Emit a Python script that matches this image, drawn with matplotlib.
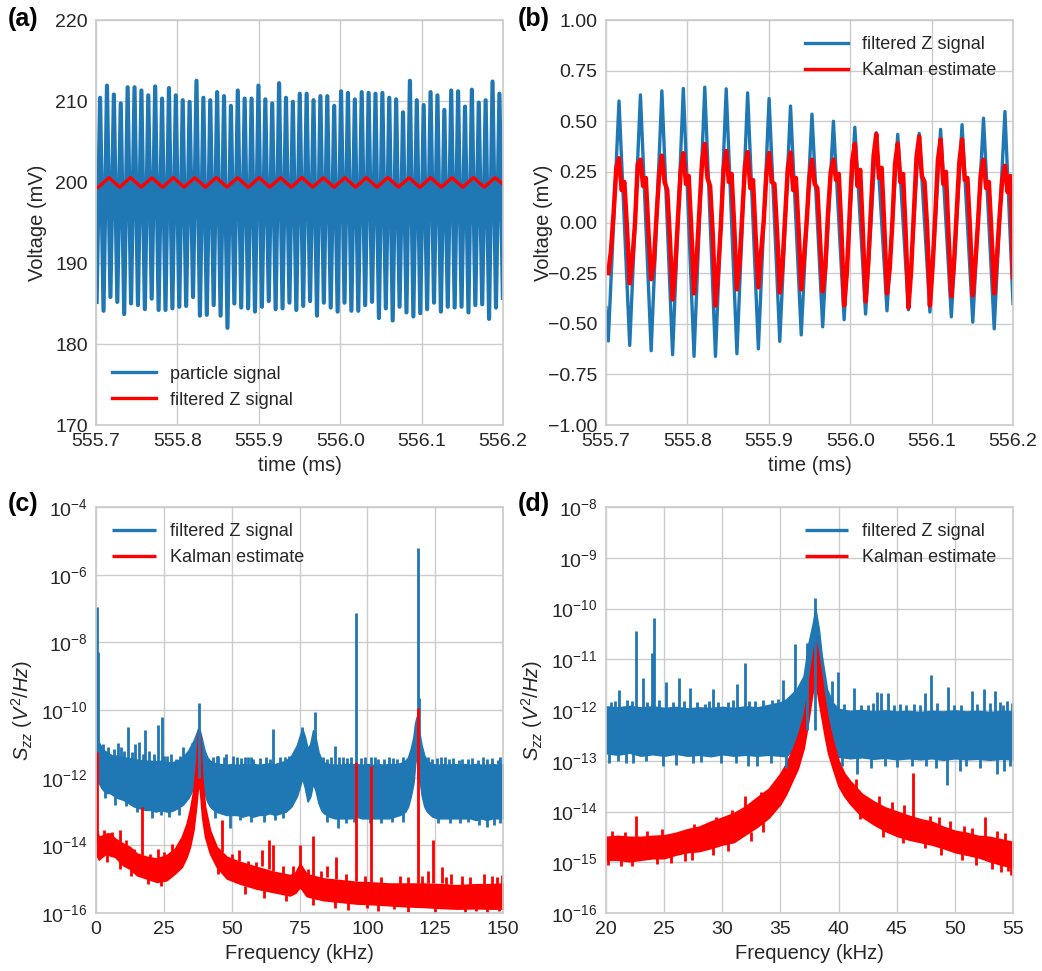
import numpy as np
import matplotlib
matplotlib.use('Agg')
import matplotlib.pyplot as plt
from matplotlib.ticker import FormatStrFormatter, NullLocator, FixedLocator

# ---------------- DATA ----------------
# (a) particle signal: per-cycle extrema (mV), 118 kHz oscillation
a_t_start = 555.7008          # first trough time (ms)
a_period = 0.008458           # ms
a_peaks = [210.4, 211.9, 210.8, 209.7, 211.7, 211.7, 211.3, 210.7, 211.8, 210.3,
           211.6, 210.7, 210.1, 209.9, 212.5, 210.4, 210.1, 211.1, 210.6, 209.4,
           211.3, 210.3, 210.3, 211.9, 210.2, 209.7, 212.2, 210.4, 209.9, 210.9,
           210.9, 210.1, 210.6, 210.6, 209.4, 211.2, 211.0, 210.2, 211.1, 211.0,
           210.9, 211.0, 210.4, 210.2, 208.6, 212.5, 210.1, 209.5, 211.1, 210.7,
           208.9, 211.3, 211.2, 209.3, 211.4, 209.8, 210.1, 212.4, 210.9]
a_troughs = [185.2, 184.1, 185.8, 185.2, 183.7, 185.0, 184.8, 184.3, 185.6, 184.2,
             184.2, 184.4, 184.6, 184.7, 185.8, 183.5, 183.6, 184.8, 183.5, 182.0,
             185.0, 184.5, 184.4, 184.0, 184.6, 185.3, 184.3, 184.4, 185.1, 184.2,
             184.7, 185.3, 183.5, 185.1, 184.5, 184.0, 185.1, 184.1, 184.1, 184.8,
             185.2, 183.2, 184.4, 182.9, 184.6, 183.9, 183.4, 183.8, 184.3, 185.1,
             184.0, 184.6, 184.5, 184.6, 183.9, 184.8, 184.9, 183.1, 184.5, 185.7]

# filtered Z signal, ~38 kHz
z_t_start = 555.7028          # first trough time (ms)
z_period = 0.02634            # ms
a_red_peaks = [200.53, 200.55, 200.52, 200.54, 200.53, 200.55, 200.52, 200.54, 200.53, 200.55,
               200.52, 200.54, 200.53, 200.55, 200.52, 200.54, 200.53, 200.55, 200.53]
a_red_troughs = [199.36, 199.35, 199.37, 199.34, 199.36, 199.35, 199.37, 199.34, 199.36, 199.35,
                 199.37, 199.34, 199.36, 199.35, 199.37, 199.34, 199.36, 199.35, 199.36]
a_red_end = 199.75

# (b) filtered Z signal extrema (mV)
b_start = -0.42
b_end = -0.40
b_peaks = [0.600, 0.630, 0.650, 0.662, 0.668, 0.660, 0.640, 0.612, 0.575, 0.535,
           0.500, 0.470, 0.443, 0.435, 0.440, 0.460, 0.483, 0.515, 0.548]
b_troughs = [-0.585, -0.607, -0.633, -0.653, -0.661, -0.661, -0.648, -0.624, -0.587, -0.555,
             -0.515, -0.480, -0.452, -0.436, -0.431, -0.442, -0.466, -0.492, -0.525]
# Kalman estimate: 8 samples per Z cycle (starting at each trough)
b_kalman = [
    [-0.25, -0.14, 0.05, 0.27, 0.317, 0.16, 0.20, -0.03],
    [-0.30, -0.18, 0.00, 0.29, 0.31, 0.18, 0.22, -0.05],
    [-0.28, -0.20, 0.03, 0.24, 0.33, 0.20, 0.16, -0.08],
    [-0.38, -0.22, 0.02, 0.25, 0.342, 0.19, 0.23, -0.04],
    [-0.35, -0.17, 0.06, 0.30, 0.388, 0.22, 0.18, -0.06],
    [-0.41, -0.24, -0.02, 0.26, 0.353, 0.20, 0.24, -0.02],
    [-0.33, -0.20, 0.04, 0.28, 0.347, 0.17, 0.21, -0.07],
    [-0.32, -0.15, 0.01, 0.24, 0.343, 0.20, 0.19, -0.05],
    [-0.345, -0.21, 0.03, 0.27, 0.345, 0.16, 0.22, -0.03],
    [-0.33, -0.18, 0.00, 0.22, 0.31, 0.19, 0.17, -0.08],
    [-0.34, -0.22, 0.05, 0.25, 0.31, 0.21, 0.24, -0.04],
    [-0.41, -0.25, 0.02, 0.30, 0.388, 0.18, 0.26, -0.05],
    [-0.39, -0.20, 0.06, 0.33, 0.437, 0.22, 0.27, -0.02],
    [-0.35, -0.23, 0.00, 0.29, 0.39, 0.20, 0.24, -0.06],
    [-0.42, -0.24, 0.04, 0.32, 0.425, 0.23, 0.20, -0.03],
    [-0.41, -0.22, 0.03, 0.31, 0.41, 0.19, 0.25, -0.07],
    [-0.365, -0.20, 0.05, 0.30, 0.41, 0.21, 0.22, -0.04],
    [-0.36, -0.19, 0.01, 0.24, 0.31, 0.17, 0.20, -0.06],
    [-0.35, -0.17, 0.03, 0.21, 0.28, 0.15, 0.23, -0.27],
]

# (c) PSD, 0-150 kHz, values are log10(S_zz)
c_blue_f = [0.3, 1, 2, 3, 4, 5, 6, 8, 10, 12, 14, 16, 18, 20, 22, 24, 26, 28, 30, 32,
            33, 34, 35, 36, 37, 37.6, 38.2, 39, 40, 41, 42, 44, 46, 48, 50, 52, 54, 56, 58, 60,
            62, 64, 66, 68, 70, 72, 73, 74, 75, 76, 77, 78, 79, 80, 81, 82, 83, 84, 86, 88,
            90, 92, 94, 96, 98, 100, 102, 104, 106, 108, 110, 112, 114, 115, 116, 117, 117.6, 118.2, 119, 120,
            121, 122, 124, 126, 128, 130, 132, 134, 136, 138, 140, 142, 144, 146, 148, 150]
c_blue_hi = [-10.9, -10.95, -11.1, -11.2, -11.25, -11.3, -11.35, -11.35, -11.4, -11.42,
             -11.45, -11.48, -11.5, -11.5, -11.52, -11.5, -11.55, -11.55, -11.5, -11.4,
             -11.3, -11.2, -11.05, -10.9, -10.7, -10.55, -10.6, -10.85, -11.2, -11.4,
             -11.5, -11.58, -11.6, -11.62, -11.6, -11.63, -11.6, -11.62, -11.6, -11.62,
             -11.6, -11.58, -11.6, -11.55, -11.5, -11.35, -11.2, -11.05, -10.8, -10.55,
             -10.8, -11.15, -11.0, -10.6, -10.85, -11.25, -11.45, -11.55, -11.6, -11.62,
             -11.62, -11.6, -11.6, -11.6, -11.62, -11.6, -11.62, -11.6, -11.62, -11.6,
             -11.6, -11.58, -11.5, -11.4, -11.15, -10.8, -10.4, -10.2, -10.6, -11.05,
             -11.35, -11.5, -11.6, -11.62, -11.6, -11.62, -11.6, -11.62, -11.6, -11.62,
             -11.6, -11.62, -11.62, -11.6, -11.62, -11.6]
c_blue_lo = [-12.1, -12.15, -12.3, -12.4, -12.45, -12.45, -12.5, -12.6, -12.65, -12.75,
             -12.85, -12.9, -12.95, -12.95, -13.0, -12.95, -13.0, -12.98, -12.9, -12.8,
             -12.7, -12.6, -12.45, -12.25, -12.0, -11.7, -11.8, -12.1, -12.45, -12.7,
             -12.85, -13.0, -13.05, -13.1, -13.1, -13.1, -13.15, -13.1, -13.15, -13.1,
             -13.1, -13.05, -13.1, -13.05, -13.0, -12.85, -12.7, -12.55, -12.3, -12.0,
             -12.3, -12.7, -12.55, -12.15, -12.4, -12.75, -12.95, -13.05, -13.15, -13.2,
             -13.2, -13.2, -13.2, -13.15, -13.2, -13.2, -13.2, -13.2, -13.2, -13.2,
             -13.15, -13.1, -13.0, -12.85, -12.55, -12.15, -11.6, -11.3, -11.9, -12.5,
             -12.85, -13.0, -13.15, -13.2, -13.2, -13.2, -13.2, -13.2, -13.2, -13.2,
             -13.25, -13.2, -13.25, -13.2, -13.2, -13.2]
# spikes: (frequency kHz, from log10, to log10)
c_blue_spikes = [(0.25, -12.0, -6.95), (0.7, -12.0, -8.3), (8.2, -12.0, -10.99), (9.2, -12.0, -11.1),
                 (11.7, -12.0, -10.51), (14.5, -12.0, -11.0), (16.0, -12.0, -10.95), (18.2, -12.0, -10.6),
                 (19.7, -12.0, -11.2), (22.9, -12.0, -10.44), (24.3, -12.0, -10.2), (26.3, -12.0, -11.35),
                 (29.5, -12.0, -11.45), (32.2, -12.0, -11.09), (35.3, -12.0, -10.99), (38.0, -12.0, -9.8),
                 (40.2, -12.0, -11.28), (45.0, -12.0, -11.35), (48.0, -12.0, -11.3), (52.0, -12.0, -11.4),
                 (56.1, -12.0, -11.38), (58.0, -12.0, -11.45), (65.1, -12.0, -10.56), (67.8, -12.0, -11.38),
                 (72.0, -12.0, -11.48), (75.8, -12.0, -10.5), (80.6, -12.0, -10.07), (85.0, -12.0, -11.45),
                 (88.2, -12.0, -11.07), (91.0, -12.0, -11.4), (96.0, -12.0, -7.13), (99.0, -12.0, -11.4),
                 (104.0, -12.0, -11.45), (108.0, -12.0, -11.4), (111.0, -12.0, -11.45), (118.6, -12.0, -5.2),
                 (118.9, -12.0, -9.65), (124.0, -12.0, -11.45), (127.0, -12.0, -11.4), (130.0, -12.0, -11.45),
                 (133.8, -12.0, -11.48), (137.0, -12.0, -11.45), (140.9, -12.0, -11.47), (144.0, -12.0, -11.45),
                 (148.3, -12.0, -11.48),
                 (2.5, -12.0, -11.0), (4.5, -12.0, -11.1), (6.5, -12.0, -11.15), (10.5, -12.0, -11.2),
                 (13.3, -12.0, -11.25), (17.2, -12.0, -11.3), (21.2, -12.0, -11.3), (25.2, -12.0, -11.35),
                 (27.5, -12.0, -11.3), (31.0, -12.0, -11.35), (43.0, -12.0, -11.4), (44.5, -12.0, -11.35),
                 (47.0, -12.0, -11.4), (50.5, -12.0, -11.35), (53.5, -12.0, -11.42), (55.0, -12.0, -11.4),
                 (57.2, -12.0, -11.38), (60.5, -12.0, -11.42), (62.5, -12.0, -11.4), (64.0, -12.0, -11.45),
                 (69.5, -12.0, -11.4), (71.0, -12.0, -11.35), (83.5, -12.0, -11.4), (86.5, -12.0, -11.38),
                 (89.5, -12.0, -11.4), (92.5, -12.0, -11.42), (94.0, -12.0, -11.4), (97.5, -12.0, -11.42),
                 (101.5, -12.0, -11.38), (102.8, -12.0, -11.4), (106.0, -12.0, -11.45), (109.5, -12.0, -11.42),
                 (113.0, -12.0, -11.4), (122.5, -12.0, -11.4), (125.5, -12.0, -11.42), (128.5, -12.0, -11.38),
                 (131.5, -12.0, -11.42), (135.0, -12.0, -11.45), (138.5, -12.0, -11.42), (142.5, -12.0, -11.4),
                 (146.0, -12.0, -11.42), (149.0, -12.0, -11.4),
                 (3.5, -12.3, -12.6), (7.0, -12.5, -12.8), (11.0, -12.5, -12.85), (15.0, -12.6, -13.0),
                 (20.5, -12.6, -13.2), (24.0, -12.6, -13.1), (27.0, -12.6, -13.15), (30.5, -12.6, -13.1),
                 (44.0, -12.6, -13.2), (49.4, -12.6, -13.5), (53.0, -12.6, -13.25), (57.0, -12.6, -13.3),
                 (62.0, -12.6, -13.3), (66.0, -12.6, -13.25), (69.0, -12.6, -13.2), (85.0, -12.6, -13.3),
                 (89.3, -12.6, -13.5), (92.0, -12.6, -13.35), (95.0, -12.6, -13.3), (101.0, -12.6, -13.35),
                 (105.0, -12.6, -13.35), (109.0, -12.6, -13.3), (113.0, -12.6, -13.3), (126.0, -12.6, -13.35),
                 (130.5, -12.6, -13.35), (134.0, -12.6, -13.35), (137.0, -12.6, -13.3), (141.0, -12.6, -13.4),
                 (144.0, -12.6, -13.45), (146.5, -12.6, -13.4), (149.0, -12.6, -13.35)]

c_red_f = [0.3, 1, 2, 3.9, 5.2, 7, 10, 12.5, 15, 18.7, 22.4, 26, 29.1, 31.6, 33.4, 34.6, 35.9,
           36.9, 37.7, 38.3, 39.1, 40.2, 42, 44.5, 48.2, 53, 59.2, 65.4, 71.5, 73.5, 75.2, 77.6,
           80, 83.8, 90, 96, 102, 108, 114, 120.6, 127, 133, 140, 145, 150]
c_red_hi = [-13.5, -13.75, -13.72, -13.65, -13.65, -13.8, -13.95, -14.05, -14.24, -14.34, -14.39,
            -14.29, -14.1, -13.75, -13.36, -12.96, -12.37, -11.58, -10.59, -10.7, -11.97, -12.86,
            -13.55, -14.05, -14.34, -14.49, -14.64, -14.78, -14.88, -14.8, -14.54, -14.85,
            -14.9, -14.98, -15.03, -15.08, -15.1, -15.13, -15.13, -15.13, -15.15, -15.18, -15.15,
            -15.15, -15.13]
c_red_lo = [-14.3, -14.42, -14.35, -14.24, -14.3, -14.34, -14.59, -14.69, -14.88, -14.98, -15.08,
            -15.03, -14.83, -14.64, -14.34, -14.05, -13.55, -12.86, -12.17, -12.37, -13.16, -13.75,
            -14.24, -14.64, -14.98, -15.13, -15.28, -15.38, -15.48, -15.4, -15.23, -15.5,
            -15.55, -15.62, -15.67, -15.72, -15.74, -15.77, -15.8, -15.82, -15.85, -15.87, -15.86,
            -15.87, -15.87]
c_red_spikes = [(0.3, -14.0, -11.23), (8.8, -13.9, -13.55), (17.1, -14.3, -12.86), (22.9, -14.4, -14.1),
                (46.4, -14.2, -13.26), (52.7, -14.45, -14.14), (61.2, -14.6, -14.14), (63.6, -14.7, -13.85),
                (65.4, -14.75, -14.0), (72.7, -14.85, -14.6), (75.2, -14.6, -14.0), (80.1, -14.9, -13.73),
                (85.3, -14.95, -14.6), (88.3, -15.0, -14.34), (95.9, -15.05, -11.53), (101.4, -15.1, -11.65),
                (118.6, -15.1, -9.95), (122.5, -15.1, -14.75), (124.1, -15.1, -13.85), (127.4, -15.1, -14.64),
                (131.0, -15.15, -14.85), (147.9, -15.15, -14.93),
                (3.0, -14.0, -13.55), (6.0, -14.0, -13.6), (11.0, -14.2, -13.85), (14.0, -14.4, -14.1),
                (20.0, -14.5, -14.25), (25.0, -14.5, -14.2), (28.0, -14.3, -13.95), (43.0, -14.2, -13.85),
                (50.0, -14.6, -14.25), (56.0, -14.7, -14.45), (59.0, -14.8, -14.5), (69.0, -14.9, -14.6),
                (78.0, -14.95, -14.7), (83.0, -15.0, -14.75), (92.0, -15.1, -14.85), (99.0, -15.1, -14.9),
                (105.0, -15.15, -14.95), (112.0, -15.15, -14.9), (115.0, -15.15, -14.95), (120.0, -15.15, -14.9),
                (129.0, -15.2, -14.95), (135.0, -15.2, -14.9), (138.0, -15.2, -14.95), (143.0, -15.2, -14.85),
                (146.0, -15.2, -14.9), (149.5, -15.2, -14.88),
                (4.0, -14.2, -14.5), (9.0, -14.4, -14.7), (13.0, -14.6, -14.9), (19.0, -14.9, -15.15),
                (24.0, -15.0, -15.2), (45.0, -14.6, -14.85), (55.0, -15.2, -15.45), (62.0, -15.3, -15.55),
                (70.0, -15.4, -15.65), (80.0, -15.5, -15.75), (88.0, -15.6, -15.85), (93.0, -15.6, -15.9),
                (100.0, -15.6, -15.85), (104.0, -15.7, -15.95), (110.0, -15.7, -15.88), (115.0, -15.75, -15.98),
                (125.0, -15.8, -16.0), (136.0, -15.8, -16.05), (140.0, -15.8, -15.95), (144.0, -15.8, -16.0),
                (148.5, -15.8, -15.93)]

# (d) PSD zoom, 20-55 kHz
d_blue_f = [20, 21, 22, 23, 24, 25, 26, 27, 28, 29, 30, 31, 32, 33, 34, 35, 35.5, 36.4, 37.0, 37.4,
            37.8, 38.0, 38.3, 38.55, 39.0, 39.5, 40, 41, 42, 43, 44, 45, 46, 47, 48, 49, 50, 51,
            52, 53, 54, 55]
d_blue_hi = [-11.93, -11.95, -11.92, -11.95, -11.93, -11.96, -11.94, -11.97, -11.95, -11.96, -11.94,
             -11.96, -11.93, -11.95, -11.9, -11.85, -11.79, -11.59, -11.33, -10.7, -10.28, -10.0,
             -10.41, -10.93, -11.59, -11.86, -11.98, -12.02, -12.0, -12.03, -12.01, -12.03, -12.02,
             -12.04, -12.02, -12.03, -12.01, -12.03, -12.02, -12.04, -12.02, -12.03]
d_blue_lo = [-12.85, -12.88, -12.84, -12.9, -12.87, -12.9, -12.86, -12.9, -12.88, -12.91, -12.87,
             -12.9, -12.88, -12.9, -12.88, -12.9, -12.91, -12.7, -12.38, -11.79, -11.26, -11.2,
             -11.6, -12.1, -12.5, -12.85, -12.92, -12.95, -12.93, -12.96, -12.94, -12.97, -12.95,
             -12.97, -12.95, -12.98, -12.95, -12.97, -12.96, -12.98, -12.96, -12.97]
d_blue_spikes = [(21.15, -12.4, -11.61), (22.58, -12.4, -10.44), (23.18, -12.4, -11.36), (23.98, -12.4, -10.87),
                 (24.16, -12.4, -10.19), (25.13, -12.4, -11.44), (26.25, -12.4, -11.36), (27.25, -12.4, -11.56),
                 (29.17, -12.4, -11.58), (31.29, -12.4, -11.49), (31.95, -12.4, -11.08), (35.25, -12.4, -11.41),
                 (36.25, -12.4, -10.70), (37.31, -12.4, -10.67), (37.94, -12.4, -9.80), (39.43, -12.4, -11.42),
                 (39.97, -12.4, -11.26), (41.35, -12.4, -11.57), (43.33, -12.4, -11.64), (43.65, -12.4, -11.67),
                 (44.28, -12.4, -11.66), (47.43, -12.4, -11.67), (47.97, -12.4, -11.31), (49.43, -12.4, -11.55),
                 (51.44, -12.4, -11.62), (52.53, -12.4, -11.58), (53.45, -12.4, -11.62), (54.45, -12.4, -11.82),
                 (20.4, -12.4, -11.85), (21.8, -12.4, -11.8), (22.2, -12.4, -11.82), (25.8, -12.4, -11.85),
                 (28.5, -12.4, -11.88), (30.5, -12.4, -11.85), (32.8, -12.4, -11.82), (34.3, -12.4, -11.8),
                 (42.5, -12.4, -11.9), (45.8, -12.4, -11.9), (46.5, -12.4, -11.88), (50.5, -12.4, -11.9),
                 (53.9, -12.4, -11.85),
                 (20.8, -12.4, -11.82), (23.5, -12.4, -11.85), (24.6, -12.4, -11.8), (26.7, -12.4, -11.83),
                 (27.8, -12.4, -11.85), (28.9, -12.4, -11.82), (29.6, -12.4, -11.84), (30.9, -12.4, -11.8),
                 (32.3, -12.4, -11.83), (33.5, -12.4, -11.8), (34.8, -12.4, -11.78), (40.5, -12.4, -11.88),
                 (41.9, -12.4, -11.9), (43.0, -12.4, -11.87), (44.8, -12.4, -11.9), (45.3, -12.4, -11.88),
                 (47.0, -12.4, -11.9), (48.5, -12.4, -11.87), (49.9, -12.4, -11.9), (51.9, -12.4, -11.88),
                 (53.0, -12.4, -11.87), (54.1, -12.4, -11.9), (54.9, -12.4, -11.86),
                 (20.3, -12.5, -13.05), (22.3, -12.5, -13.05), (24.9, -12.5, -13.1), (27.5, -12.5, -13.05),
                 (29.9, -12.5, -13.05), (33.0, -12.5, -13.1), (35.5, -12.5, -13.15), (41.6, -12.5, -13.27),
                 (44.0, -12.5, -13.1), (46.3, -12.5, -13.1), (49.3, -12.5, -13.47), (51.0, -12.5, -13.1),
                 (53.6, -12.5, -13.27), (54.7, -12.5, -13.1),
                 (21.0, -12.5, -13.0), (21.7, -12.5, -13.05), (23.4, -12.5, -13.0), (26.0, -12.5, -13.08),
                 (28.2, -12.5, -13.02), (31.2, -12.5, -13.05), (32.2, -12.5, -13.1), (34.2, -12.5, -13.05),
                 (40.3, -12.5, -13.1), (42.8, -12.5, -13.15), (45.0, -12.5, -13.12), (47.5, -12.5, -13.1),
                 (48.4, -12.5, -13.15), (50.4, -12.5, -13.2), (52.2, -12.5, -13.15), (54.2, -12.5, -13.2)]

d_red_f = [20, 21, 22, 23, 24, 25, 26, 27, 28, 29, 30, 31, 32, 33, 34, 35, 35.5, 36, 36.5, 37,
           37.3, 37.6, 37.8, 38.0, 38.2, 38.5, 38.8, 39.1, 39.5, 40, 40.5, 41, 42, 43, 44, 45, 46,
           47, 48, 49, 50, 51, 52, 53, 54, 55]
d_red_hi = [-14.5, -14.48, -14.5, -14.5, -14.48, -14.47, -14.42, -14.35, -14.3, -14.2, -14.12, -14.03,
            -13.9, -13.72, -13.55, -13.25, -13.05, -12.8, -12.5, -12.1, -11.7, -11.2, -10.9, -10.59,
            -10.85, -11.3, -11.8, -12.2, -12.6, -13.0, -13.25, -13.4, -13.65, -13.8, -13.92, -14.0,
            -14.08, -14.15, -14.2, -14.3, -14.38, -14.42, -14.48, -14.5, -14.55, -14.6]
d_red_lo = [-14.95, -14.95, -14.98, -14.95, -14.92, -14.92, -14.85, -14.8, -14.78, -14.72, -14.65, -14.6,
            -14.45, -14.3, -14.12, -13.85, -13.65, -13.4, -13.15, -12.75, -12.35, -11.9, -11.6, -11.5,
            -11.7, -12.1, -12.5, -12.85, -13.15, -13.5, -13.7, -13.85, -14.1, -14.25, -14.38, -14.48,
            -14.55, -14.6, -14.65, -14.72, -14.8, -14.85, -14.9, -14.98, -15.05, -15.1]
d_red_spikes = [(22.6, -14.5, -14.09), (31.95, -14.0, -13.7), (46.4, -14.1, -13.24), (47.9, -14.2, -14.09),
                (52.6, -14.5, -14.11), (30.5, -14.6, -14.78), (53.2, -15.0, -15.14), (21.3, -14.9, -15.08),
                (26.8, -14.8, -14.98), (54.6, -15.0, -15.17),
                (20.5, -14.6, -14.38), (21.6, -14.6, -14.4), (23.5, -14.6, -14.38), (24.8, -14.6, -14.35),
                (27.6, -14.5, -14.25), (29.5, -14.4, -14.1), (30.8, -14.3, -13.98), (33.3, -14.0, -13.62),
                (34.5, -13.8, -13.4), (41.5, -13.6, -13.35), (43.5, -13.95, -13.7), (44.6, -14.05, -13.82),
                (45.6, -14.1, -13.88), (48.6, -14.35, -14.1), (49.6, -14.4, -14.18), (50.8, -14.5, -14.28),
                (51.5, -14.55, -14.32), (53.6, -14.6, -14.38), (54.3, -14.65, -14.42),
                (20.2, -14.85, -15.05), (22.2, -14.9, -15.08), (24.4, -14.85, -15.04), (25.6, -14.85, -15.02),
                (27.4, -14.75, -14.95), (29.2, -14.65, -14.85), (32.5, -14.4, -14.58), (33.5, -14.2, -14.4),
                (41.8, -13.95, -14.15), (43.8, -14.3, -14.5), (45.5, -14.45, -14.62), (47.4, -14.55, -14.72),
                (48.8, -14.65, -14.85), (50.6, -14.75, -14.95), (51.8, -14.85, -15.05), (54.0, -14.95, -15.2),
                (54.8, -15.0, -15.25)]

BLUE = '#1f77b4'
RED = '#ff0000'

# ---------------- STYLE ----------------
plt.rcParams.update({
    'font.family': ['Liberation Sans', 'DejaVu Sans'],
    'mathtext.fontset': 'custom',
    'mathtext.rm': 'Liberation Sans',
    'mathtext.it': 'Liberation Sans:italic',
    'mathtext.bf': 'Liberation Sans:bold',
    'axes.edgecolor': '#cccccc',
    'axes.linewidth': 1.25,
    'grid.color': '#cccccc',
    'grid.linewidth': 1.0,
    'xtick.major.size': 0, 'ytick.major.size': 0,
    'xtick.minor.size': 0, 'ytick.minor.size': 0,
    'xtick.major.pad': 6, 'ytick.major.pad': 6,
    'xtick.labelsize': 14, 'ytick.labelsize': 14,
    'axes.labelsize': 14.5,
    'legend.fontsize': 13,
    'text.color': '#262626', 'axes.labelcolor': '#262626',
    'xtick.color': '#262626', 'ytick.color': '#262626',
})

fig = plt.figure(figsize=(10.42, 9.71), dpi=100)
W, H = 1042.0, 971.0
ax_a = fig.add_axes([96 / W, 1 - 425 / H, 407 / W, 405 / H])
ax_b = fig.add_axes([606 / W, 1 - 425 / H, 407 / W, 405 / H])
ax_c = fig.add_axes([96 / W, 1 - 913 / H, 407 / W, 406 / H])
ax_d = fig.add_axes([606 / W, 1 - 913 / H, 407 / W, 406 / H])

for ax in (ax_a, ax_b, ax_c, ax_d):
    ax.grid(True, which='major')
    ax.set_axisbelow(True)
    for s in ax.spines.values():
        s.set_color('#cccccc')

# ---------------- (a) ----------------
ta, va = [], []
for k in range(len(a_peaks)):
    ta += [a_t_start + k * a_period, a_t_start + (k + 0.5) * a_period]
    va += [a_troughs[k], a_peaks[k]]
ta.append(a_t_start + len(a_peaks) * a_period)
va.append(a_troughs[len(a_peaks)])
ax_a.plot(ta, va, color=BLUE, lw=3.0, label='particle signal')

tr, vr = [], []
for k in range(len(a_red_peaks)):
    tr += [z_t_start + k * z_period, z_t_start + (k + 0.5) * z_period]
    vr += [a_red_troughs[k], a_red_peaks[k]]
tr.append(556.2)
vr.append(a_red_end)
ax_a.plot(tr, vr, color=RED, lw=2.4, label='filtered Z signal')
ax_a.set_xlim(555.7, 556.2)
ax_a.set_ylim(170, 220)
ax_a.set_yticks([170, 180, 190, 200, 210, 220])
ax_a.set_xticks([555.7, 555.8, 555.9, 556.0, 556.1, 556.2])
ax_a.xaxis.set_major_formatter(FormatStrFormatter('%.1f'))
ax_a.set_xlabel('time (ms)')
ax_a.set_ylabel('Voltage (mV)')
ax_a.yaxis.set_label_coords(-0.12, 0.5)
leg = ax_a.legend(loc='lower left', frameon=False, handlelength=2.4, handletextpad=0.8)
for h in leg.get_lines():
    h.set_linewidth(2.4)

# ---------------- (b) ----------------
tb, vb = [555.7], [b_start]
for k in range(len(b_peaks)):
    tb += [z_t_start + k * z_period, z_t_start + (k + 0.5) * z_period]
    vb += [b_troughs[k], b_peaks[k]]
tb.append(556.2)
vb.append(b_end)
ax_b.plot(tb, vb, color=BLUE, lw=2.4, label='filtered Z signal')

tk, vk = [], []
for k, cyc in enumerate(b_kalman):
    for j, v in enumerate(cyc):
        tk.append(z_t_start + (k + j / len(cyc)) * z_period)
        vk.append(v)
ax_b.plot(tk, vk, color=RED, lw=3.2, label='Kalman estimate')
ax_b.set_xlim(555.7, 556.2)
ax_b.set_ylim(-1.0, 1.0)
ax_b.set_yticks([-1.0, -0.75, -0.5, -0.25, 0.0, 0.25, 0.5, 0.75, 1.0])
ax_b.set_xticks([555.7, 555.8, 555.9, 556.0, 556.1, 556.2])
ax_b.xaxis.set_major_formatter(FormatStrFormatter('%.1f'))
ax_b.set_xlabel('time (ms)')
ax_b.set_ylabel('Voltage (mV)')
ax_b.yaxis.set_label_coords(-0.13, 0.5)
leg = ax_b.legend(loc='upper right', frameon=False, handlelength=2.4, handletextpad=0.8)
for h in leg.get_lines():
    h.set_linewidth(2.4)


# ---------------- PSD helper ----------------
def draw_psd(ax, f, lo, hi, spikes, color, label, lw):
    ax.fill_between(f, 10.0 ** np.array(lo), 10.0 ** np.array(hi),
                    facecolor=color, edgecolor=color, lw=1.2)
    xs, ys = [], []
    for fs, y0, y1 in spikes:
        xs += [fs, fs, np.nan]
        ys += [10.0 ** y0, 10.0 ** y1, np.nan]
    ax.plot(xs, ys, color=color, lw=lw, label=label, solid_capstyle='butt')


# ---------------- (c) ----------------
ax_c.set_yscale('log')
draw_psd(ax_c, c_blue_f, c_blue_lo, c_blue_hi, c_blue_spikes, BLUE, 'filtered Z signal', 2.0)
draw_psd(ax_c, c_red_f, c_red_lo, c_red_hi, c_red_spikes, RED, 'Kalman estimate', 2.0)
ax_c.set_xlim(0, 150)
ax_c.set_ylim(1e-16, 1e-4)
ax_c.yaxis.set_major_locator(FixedLocator([1e-16, 1e-14, 1e-12, 1e-10, 1e-8, 1e-6, 1e-4]))
ax_c.yaxis.set_minor_locator(NullLocator())
ax_c.set_xticks([0, 25, 50, 75, 100, 125, 150])
ax_c.set_xlabel('Frequency (kHz)')
ax_c.set_ylabel(r'$S_{zz}$ $(V^2/Hz)$')
ax_c.yaxis.set_label_coords(-0.15, 0.5)
leg = ax_c.legend(loc='upper left', frameon=False, handlelength=2.4, handletextpad=0.8)
for h in leg.get_lines():
    h.set_linewidth(2.4)

# ---------------- (d) ----------------
ax_d.set_yscale('log')
draw_psd(ax_d, d_blue_f, d_blue_lo, d_blue_hi, d_blue_spikes, BLUE, 'filtered Z signal', 2.0)
draw_psd(ax_d, d_red_f, d_red_lo, d_red_hi, d_red_spikes, RED, 'Kalman estimate', 2.0)
ax_d.set_xlim(20, 55)
ax_d.set_ylim(1e-16, 1e-8)
ax_d.yaxis.set_major_locator(FixedLocator([1e-16, 1e-15, 1e-14, 1e-13, 1e-12, 1e-11, 1e-10, 1e-9, 1e-8]))
ax_d.yaxis.set_minor_locator(NullLocator())
ax_d.set_xticks([20, 25, 30, 35, 40, 45, 50, 55])
ax_d.set_xlabel('Frequency (kHz)')
ax_d.set_ylabel(r'$S_{zz}$ $(V^2/Hz)$')
ax_d.yaxis.set_label_coords(-0.15, 0.5)
leg = ax_d.legend(loc='upper right', frameon=False, handlelength=2.4, handletextpad=0.8)
for h in leg.get_lines():
    h.set_linewidth(2.4)

# panel labels
for txt, x, y in (('(a)', 8, 19), ('(b)', 518, 19), ('(c)', 8, 504), ('(d)', 518, 504)):
    fig.text(x / W, 1 - y / H, txt, fontsize=18, fontweight='bold', ha='left', va='center',
             color='black')

fig.savefig('out.png', dpi=100)
